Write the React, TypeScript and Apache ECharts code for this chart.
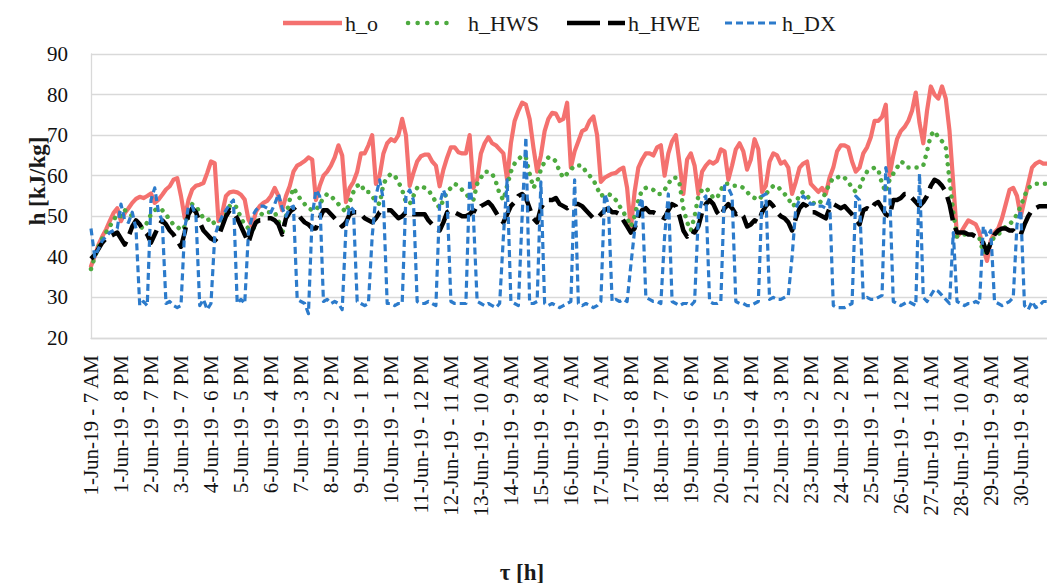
import React, { useEffect, useRef } from 'react';
import * as echarts from 'echarts';

const tickLabels = [
  '1-Jun-19 - 7 AM', '1-Jun-19 - 8 PM', '2-Jun-19 - 7 PM', '3-Jun-19 - 7 PM', '4-Jun-19 - 6 PM',
  '5-Jun-19 - 5 PM', '6-Jun-19 - 4 PM', '7-Jun-19 - 3 PM', '8-Jun-19 - 2 PM', '9-Jun-19 - 1 PM',
  '10-Jun-19 - 1 PM', '11-Jun-19 - 12 PM', '12-Jun-19 - 11 AM', '13-Jun-19 - 10 AM', '14-Jun-19 - 9 AM',
  '15-Jun-19 - 8 AM', '16-Jun-19 - 7 AM', '17-Jun-19 - 7 AM', '17-Jun-19 - 8 PM', '18-Jun-19 - 7 PM',
  '19-Jun-19 - 6 PM', '20-Jun-19 - 5 PM', '21-Jun-19 - 4 PM', '22-Jun-19 - 3 PM', '23-Jun-19 - 2 PM',
  '24-Jun-19 - 2 PM', '25-Jun-19 - 1 PM', '26-Jun-19 - 12 PM', '27-Jun-19 - 11 AM', '28-Jun-19 - 10 AM',
  '29-Jun-19 - 9 AM', '30-Jun-19 - 8 AM',
];
const POINTS_PER_TICK = 8;

const hO = [
  37.7, 40.2, 43, 45, 46.7, 48.8, 50.8, 52,
  48.8, 50.8, 52, 53.3, 54.3, 54.8, 54.5, 55,
  55.6, 53.3, 54.1, 55.3, 56.6, 57.4, 59, 59.4,
  55, 49.6, 54, 56.6, 57.5, 57.8, 58.2, 60.7,
  63.5, 63.1, 48.8, 50.8, 55, 55.9, 56.1, 55.9,
  55.3, 54.1, 49.2, 47.5, 51.2, 52.5, 53.3, 53.8,
  55, 57, 55, 51.5, 55, 57.4, 61, 62.5,
  63, 63.6, 64.5, 64, 54, 57.5, 60, 61,
  62.5, 64.5, 67.5, 65, 53.5, 57, 58.5, 61,
  65.5, 65.5, 67.5, 70, 58, 60, 65.5, 68,
  69, 68.5, 70, 74, 70, 57.5, 60.7, 63.5,
  64.8, 65.2, 65.2, 63.5, 62.5, 57.4, 61.5, 64.5,
  67, 67, 65.8, 65.5, 65.5, 70, 57, 59,
  65.5, 68, 69.5, 68, 67.5, 66.5, 65.5, 59,
  68, 73.5, 76, 78, 77.5, 74, 67, 61,
  65, 71, 74, 75.5, 75.3, 73.5, 74, 78,
  62, 66, 68.5, 71, 71.5, 73.5, 74.6, 70,
  58.5, 59.5, 60, 60.5, 60.7, 61.5, 62, 57,
  47, 56, 62, 64, 65.5, 65.5, 65, 67,
  67.5, 60, 65.5, 68.5, 70, 63, 55.5, 64,
  65.5, 62.5, 55.5, 61, 62.5, 63.5, 63, 63.7,
  66.5, 66, 59, 62.5, 66.5, 68, 66, 61.5,
  64, 69, 66.5, 56, 57.5, 63.5, 65.5, 65,
  63, 63.5, 62, 55.5, 58.5, 62, 63, 63.5,
  58, 57, 56, 57, 55.5, 59.5, 62, 66,
  67.5, 67.5, 67, 63.5, 61, 62, 65.5, 67,
  69.5, 73.5, 73.5, 74.5, 77.5, 60, 65, 69,
  71, 72, 73.5, 76, 80.5, 73, 68, 76,
  82, 80, 79, 82, 79, 71, 58, 45,
  46, 47.5, 49, 48.5, 48, 46, 42, 39,
  44, 46, 47, 49.5, 53, 56.5, 57, 55,
  50, 54, 58, 62, 63, 63.5, 63, 63,
];

const hHWS = [
  37, 40, 42.5, 44.5, 46, 47.5, 49, 50.5,
  50, 51.5, 51, 50, 48.5, 47.5, 47, 48.5,
  50.5, 51.5, 52, 51.5, 50.5, 49, 48, 47.5,
  46.5, 47.5, 51, 53, 52.5, 51, 49.5, 49,
  49.5, 48, 47, 48.5, 50.5, 52.5, 53, 52,
  49.5, 48, 47, 46.5, 48, 50, 51, 51,
  51, 51, 49, 45.5, 50, 54, 57, 55.5,
  54, 53, 52, 51.5, 51.5, 53, 54.5, 55.5,
  55, 54, 53, 52, 51, 53.5, 56, 57.5,
  58, 56, 56, 55, 53.5, 53, 58, 59.5,
  60.5, 60, 58.5, 56.5, 53.5, 53, 55, 57,
  57.5, 57, 56.5, 55, 53.5, 52, 54, 56,
  57, 58, 57.5, 56.5, 55.5, 54.5, 54, 58,
  59.5, 61, 61, 60.5, 58.5, 55.5, 54, 57.5,
  61, 63, 64, 65, 64.5, 60.5, 57, 58.5,
  61.5, 63.5, 64.5, 64.5, 63.5, 61, 59.5, 60.5,
  61.5, 62.5, 62.5, 62.5, 61, 60, 59, 57,
  55, 55.5, 55.5, 55, 54, 52.5, 51, 49.5,
  47.5, 50, 54, 56.5, 57, 57, 56.5, 55.5,
  55.5, 56.5, 58, 59.5, 59.5, 58, 52, 48.5,
  46.5, 50, 55, 56.5, 57, 56, 54.5, 54.5,
  56.5, 58, 58, 57.5, 57.5, 57.5, 57, 56,
  55, 54.5, 54, 55, 55.5, 56.5, 57.5, 57.5,
  56.5, 55.5, 54.5, 52.5, 53, 55.5, 56, 55,
  54, 53, 53, 54, 56, 58, 59.5, 59.5,
  60, 59.5, 58.5, 57, 56, 57, 59.5, 61,
  61.5, 62, 61.5, 58, 56, 59, 60.5, 62,
  63.5, 63, 62, 62, 62, 62, 62.5, 66,
  70, 71, 69.5, 68.5, 67, 59, 51, 45,
  45, 45.5, 45.5, 45.5, 45, 44.5, 41, 41.5,
  43.5, 45, 45.5, 46.5, 47.5, 48, 49, 50.5,
  52.5, 55, 57, 57.5, 58, 58, 58, 58,
];

const hHWE = [
  39.5, 40.5, 42, 43.5, 44.5, 45, 45.5, 46,
  44.5, 43, 45, 47.5, 49, 48, 46.5, 45.5,
  43.5, 45.5, 47.5, 49, 48, 46.5, 45.5, 44,
  42.5, 46, 50.5, 52, 51, 48.5, 46.5, 45.5,
  44.5, 44, 45, 47.5, 50, 51.5, 51, 49.5,
  47.5, 45.5, 43.5, 46.5, 48.5, 49, 49, 49.5,
  49.5, 49, 48, 45.5, 49.5, 51, 52, 51,
  49.5, 48.5, 48, 47, 47, 49.5, 51.5, 51.5,
  50.5, 49.5, 48.5, 47.5, 48.5, 50.5, 51, 51,
  50.5, 49.5, 49, 48.5, 49.5, 51, 51.5, 51.5,
  51.5, 50.5, 49.5, 50, 51, 51, 50.5, 50.5,
  50.5, 50.5, 49, 48, 47, 46.5, 48.5, 51,
  51.5, 51, 50.5, 50, 50, 50.5, 51.5, 51,
  52.5, 53, 53.5, 52.5, 51, 49.5, 48.5, 50.5,
  52.5, 53.5, 55, 55.5, 54.5, 52, 49.5, 48.5,
  52, 53.5, 54, 54, 54.5, 53, 52.5, 52,
  53, 53, 53, 52.5, 51.5, 50.5, 49.5, 49.5,
  50.5, 51.5, 52, 51, 51, 50.5, 49, 47.5,
  46, 47, 50, 51.5, 52, 51, 51, 50.5,
  50, 49.5, 51.5, 53, 52.5, 50, 46.5, 45,
  46.5, 46, 47.5, 51, 53, 54, 53, 51,
  50, 52, 53, 52, 50.5, 51, 50, 47.5,
  48, 49, 48.5, 51, 52.5, 53.5, 52.5, 51,
  50, 49.5, 48.5, 46.5, 49.5, 52, 53, 52.5,
  51, 51, 50.5, 50, 49.5, 52, 53, 52.5,
  52, 52.5, 51.5, 50.5, 49, 48, 51.5, 52,
  51.5, 53, 53.5, 52, 50.5, 50, 54, 54,
  54.5, 55.5, 55.5, 54.5, 53.5, 52.5, 53.5, 55,
  57.5, 59, 58.5, 57.5, 56, 53, 48.5, 46,
  46, 46, 45.5, 45.5, 45, 44.5, 43.5, 41,
  43.5, 45.5, 46.5, 47, 47, 46.5, 46.5, 45.5,
  45.5, 48, 50, 51.5, 52, 52.5, 52.5, 52.5,
];

const hDX = [
  47, 40, 42, 44, 45, 46, 46.5, 47,
  53, 49, 48.5, 51, 47, 28, 29, 28,
  54, 57, 51, 49, 28.5, 29, 28, 27.5,
  28, 47, 52.5, 52.5, 50, 28, 29.5, 27,
  28.5, 45, 48, 50, 51.5, 53, 54, 28.5,
  29.5, 28.5, 46, 50, 51.5, 52.5, 52.5, 52,
  51, 53, 55.5, 52, 50, 52, 52.5, 29.5,
  29, 28.5, 26, 50, 56.5, 55, 29, 29.5,
  28.5, 29, 28.5, 27, 47, 52.5, 51.5, 29,
  28.5, 28, 28.5, 45, 55, 59, 54, 28.5,
  28.5, 28, 28.5, 28.5, 55, 56.5, 54, 29,
  28.5, 28.5, 29, 28.5, 28, 53, 56.5, 54,
  29, 28.5, 28.5, 28.5, 28.5, 59, 50, 29,
  28.5, 28, 28.5, 28, 27.5, 28.5, 45, 59,
  29, 28.5, 28, 50, 69.5, 28.5, 28.5, 29,
  58.5, 28.5, 28, 28.5, 28, 27.5, 28, 28.5,
  29, 59, 28.5, 28, 28.5, 28, 27.5, 28,
  29, 55.5, 53, 29, 29.5, 29, 29.5, 29,
  38, 46.5, 52, 54.5, 30, 29.5, 29, 29,
  28.5, 45, 55.5, 29, 28.5, 28, 28.5, 28.5,
  28, 29, 50, 54, 55, 29, 28.5, 28.5,
  29, 57.5, 57, 55, 29, 28.5, 28.5, 28,
  28, 28.5, 29, 55, 55.5, 29.5, 30, 29.5,
  29.5, 30, 30.5, 40, 52, 54, 55, 54,
  53, 53, 52.5, 52.5, 52, 54.5, 28, 27.5,
  27.5, 27.5, 28, 28.5, 55, 54, 29.5, 30,
  29.5, 29.5, 30, 30.5, 62, 57, 29, 28.5,
  28, 28.5, 29, 28.5, 28, 60.5, 30, 29,
  30.5, 32, 31.5, 30.5, 29.5, 28.5, 46, 29,
  28.5, 28, 28.5, 28.5, 29, 28.5, 47.5, 45,
  46.5, 29, 28.5, 28, 28.5, 29, 30, 48,
  51.5, 28, 27, 29, 27.5, 28, 29, 29,
];

const categories = hO.map((_, i) => String(i));

const COLORS = { o: '#F4716F', hws: '#4DAA3F', hwe: '#000000', dx: '#2C7BCB' };
const FONT = '"Liberation Serif", "Times New Roman", serif';

export default function App() {
  const ref = useRef<HTMLDivElement>(null);

  useEffect(() => {
    if (!ref.current) return;
    const chart = echarts.init(ref.current, null, { renderer: 'svg' });

    const mk = (name: string, data: number[], color: string, width: number, type: any, cap: string) => ({
      type: 'line',
      name,
      data,
      symbol: 'none',
      showSymbol: false,
      smooth: false,
      lineStyle: { color, width, type, cap, join: 'round' },
      itemStyle: { color },
    });

    const legendY = 23;
    const textStyle = (text: string) => ({ text, fontSize: 22, fontFamily: FONT, fill: '#1a1a1a', textVerticalAlign: 'middle' });

    chart.setOption({
      animation: false,
      backgroundColor: '#ffffff',
      grid: { left: 91, top: 54, height: 284, right: -10, containLabel: false },
      xAxis: {
        type: 'category',
        data: categories,
        boundaryGap: false,
        axisLine: { show: true, lineStyle: { color: '#d9d9d9', width: 1.3 } },
        axisTick: { show: false },
        splitLine: { show: false },
        axisLabel: {
          interval: POINTS_PER_TICK - 1,
          rotate: 90,
          margin: 17,
          fontSize: 21,
          fontFamily: FONT,
          color: '#111',
          formatter: (_v: string, idx: number) =>
            idx % POINTS_PER_TICK === 0 ? tickLabels[idx / POINTS_PER_TICK] ?? '' : '',
        },
      },
      yAxis: {
        type: 'value',
        min: 20,
        max: 90,
        interval: 10,
        axisLine: { show: true, lineStyle: { color: '#d9d9d9', width: 1.3 } },
        axisTick: { show: false },
        axisLabel: { margin: 23, fontSize: 21, fontFamily: FONT, color: '#111' },
        splitLine: { show: true, lineStyle: { color: '#d9d9d9', width: 1.3 } },
      },
      series: [
        mk('h_o', hO, COLORS.o, 4.2, 'solid', 'round'),
        mk('h_HWS', hHWS, COLORS.hws, 4.5, [0.1, 8], 'round'),
        mk('h_HWE', hHWE, COLORS.hwe, 4.5, [24, 8], 'butt'),
        mk('h_DX', hDX, COLORS.dx, 3.2, [7, 4], 'butt'),
      ],
      graphic: [
        { type: 'line', shape: { x1: 283, y1: legendY, x2: 342, y2: legendY }, style: { stroke: COLORS.o, lineWidth: 4.5 } },
        { type: 'text', x: 345, y: legendY, style: textStyle('h_o') },
        { type: 'line', shape: { x1: 408, y1: legendY, x2: 456, y2: legendY }, style: { stroke: COLORS.hws, lineWidth: 4.5, lineDash: [0.1, 9.5], lineCap: 'round' } },
        { type: 'text', x: 468, y: legendY, style: textStyle('h_HWS') },
        { type: 'line', shape: { x1: 567, y1: legendY, x2: 625, y2: legendY }, style: { stroke: COLORS.hwe, lineWidth: 4.5, lineDash: [33, 8] } },
        { type: 'text', x: 628, y: legendY, style: textStyle('h_HWE') },
        { type: 'line', shape: { x1: 725, y1: legendY, x2: 780, y2: legendY }, style: { stroke: COLORS.dx, lineWidth: 3.2, lineDash: [7, 4] } },
        { type: 'text', x: 782, y: legendY, style: textStyle('h_DX') },
        {
          type: 'text', x: 37, y: 181, rotation: Math.PI / 2,
          style: { text: 'h [kJ/kg]', fontSize: 23, fontWeight: 'bold', fontFamily: FONT, fill: '#1a1a1a', textAlign: 'center', textVerticalAlign: 'middle' },
        },
        {
          type: 'text', x: 522, y: 572,
          style: { text: 'τ [h]', fontSize: 23, fontWeight: 'bold', fontFamily: FONT, fill: '#1a1a1a', textAlign: 'center', textVerticalAlign: 'middle' },
        },
      ],
    });

    return () => chart.dispose();
  }, []);

  return (
    <div
      ref={ref}
      style={{ position: 'fixed', left: 0, top: 0, width: 1047, height: 583, background: '#fff' }}
    />
  );
}
